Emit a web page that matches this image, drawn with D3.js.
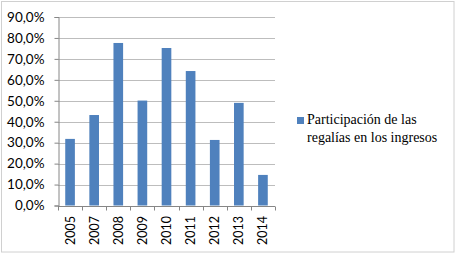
<!DOCTYPE html>
<html>
<head>
<meta charset="utf-8">
<script src="https://cdn.jsdelivr.net/npm/d3@7"></script>
<style>
  body { margin: 0; background: #fff; }
  svg { display: block; }
</style>
</head>
<body>
<div id="chart"></div>
<script>
// data
var years = ["2005", "2007", "2008", "2009", "2010", "2011", "2012", "2013", "2014"];
var share = [0.318, 0.432, 0.776, 0.501, 0.752, 0.642, 0.313, 0.490, 0.146];
var yTicks = [0, 0.1, 0.2, 0.3, 0.4, 0.5, 0.6, 0.7, 0.8, 0.9];
var seriesName = ["Participación de las", "regalías en los ingresos"];

var W = 456, H = 255;
var plot = {left: 58, right: 275, top: 17, bottom: 205.5};

var svg = d3.select("#chart").append("svg")
  .attr("width", W)
  .attr("height", H);

// outer frame
svg.append("rect")
  .attr("x", 1.5).attr("y", 1.5)
  .attr("width", 452.5).attr("height", 250.5)
  .attr("fill", "#fff")
  .attr("stroke", "#d0d0d0");

var x = d3.scaleBand()
  .domain(years)
  .range([plot.left, plot.right])
  .paddingInner(0.6)
  .paddingOuter(0.3);

var y = d3.scaleLinear()
  .domain([0, 0.9])
  .range([plot.bottom, plot.top]);

var fmt = function(v) { return d3.format(".1f")(v * 100).replace(".", ",") + "%"; };

// gridlines
svg.append("g")
  .selectAll("line")
  .data(yTicks.slice(1))
  .enter().append("line")
    .attr("x1", plot.left)
    .attr("x2", plot.right)
    .attr("y1", d => Math.round(y(d)) + 0.5)
    .attr("y2", d => Math.round(y(d)) + 0.5)
    .attr("stroke", "#bdbdbd")
    .attr("stroke-width", 1.2);

// bars
svg.append("g")
  .selectAll("rect")
  .data(years)
  .enter().append("rect")
    .attr("x", d => x(d))
    .attr("width", x.bandwidth())
    .attr("y", (d, i) => y(share[i]))
    .attr("height", (d, i) => y(0) - y(share[i]))
    .attr("fill", "#4f81bd");

// y axis
var yAxis = d3.axisLeft(y)
  .tickValues(yTicks)
  .tickFormat(fmt)
  .tickSize(4)
  .tickPadding(10);

var gy = svg.append("g")
  .attr("transform", "translate(" + (plot.left + 0.5) + ",0)")
  .call(yAxis);
gy.select(".domain").attr("stroke", "#868686");
gy.selectAll(".tick line").attr("stroke", "#868686");
gy.selectAll("text")
  .attr("fill", "#000")
  .style("font-family", "Lato, 'Open Sans', sans-serif")
  .style("font-size", "13.5px");

// x axis: ticks sit on band edges like Excel
var xAxisG = svg.append("g")
  .attr("transform", "translate(0," + (Math.round(plot.bottom) + 0.5) + ")");
xAxisG.append("line")
  .attr("x1", plot.left).attr("x2", plot.right)
  .attr("stroke", "#868686");
var step = (plot.right - plot.left) / years.length;
xAxisG.selectAll("line.tk")
  .data(d3.range(years.length + 1))
  .enter().append("line")
    .attr("class", "tk")
    .attr("x1", d => Math.round(plot.left + d * step) + 0.5)
    .attr("x2", d => Math.round(plot.left + d * step) + 0.5)
    .attr("y1", 0).attr("y2", 4)
    .attr("stroke", "#868686");
xAxisG.selectAll("text")
  .data(years)
  .enter().append("text")
    .attr("transform", d => "translate(" + (x(d) + x.bandwidth() / 2 + 4.5) + ",9.5)rotate(-90)")
    .attr("text-anchor", "end")
    .style("font-family", "Lato, 'Open Sans', sans-serif")
    .style("font-size", "12.5px")
    .text(d => d);

// legend
var lg = svg.append("g").attr("transform", "translate(297,117)");
lg.append("rect")
  .attr("width", 7).attr("height", 7)
  .attr("fill", "#4f81bd");
lg.selectAll("text")
  .data(seriesName)
  .enter().append("text")
    .attr("x", 10)
    .attr("y", (d, i) => 6.5 + i * 18)
    .style("font-family", "'Liberation Serif', 'Times New Roman', serif")
    .style("font-size", "14px")
    .text(d => d);
</script>
</body>
</html>
